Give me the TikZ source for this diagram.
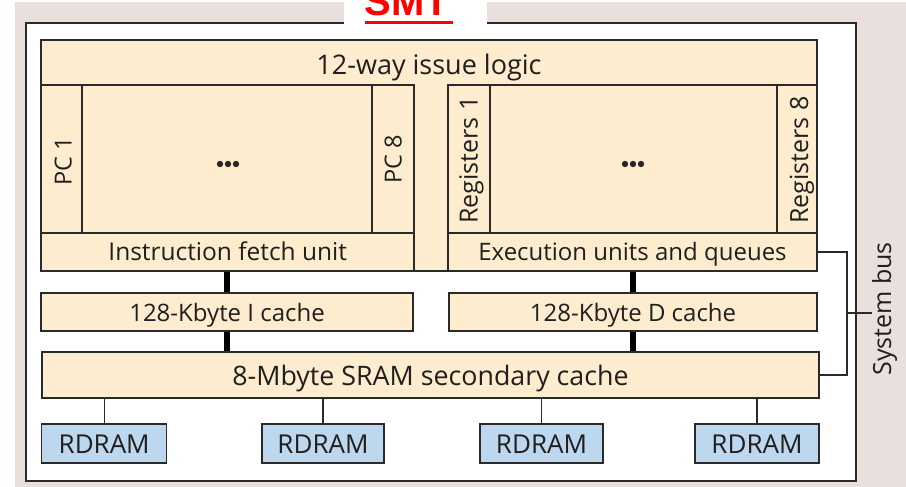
\documentclass[tikz,border=0pt]{standalone}
\usepackage{fontspec}
\setmainfont{Open Sans}
\setsansfont{Open Sans}
\newfontfamily\smtfont{Liberation Sans}
\definecolor{beige}{HTML}{FDECCE}
\definecolor{ramblue}{HTML}{BDD7EE}
\definecolor{pinkbg}{HTML}{E9DFDC}
\definecolor{ink}{HTML}{2A2A2A}
\definecolor{smtred}{HTML}{FF0000}
\newcommand{\FSz}[1]{\fontsize{#1}{#1}\selectfont}
\begin{document}
\begin{tikzpicture}[x=1pt,y=-1pt,
  blk/.style={draw=ink, line width=1.5pt, fill=beige, inner sep=0pt},
  ramblk/.style={draw=ink, line width=1.5pt, fill=ramblue, inner sep=0pt},
  txt/.style={inner sep=0pt, anchor=base, text=black!88},
  vtxt/.style={inner sep=0pt, anchor=base, rotate=90, text=black!88},
  fat/.style={draw=black, line width=5.5pt},
  link/.style={draw=ink, line width=1.4pt},
  dot/.style={fill=black!85}
]
\useasboundingbox (0,0) rectangle (906,487);
\clip (0,0) rectangle (906,487);
\fill[white] (0,0) rectangle (906,487);
\fill[pinkbg] (15,2) rectangle (906,487);

% frame
\node[draw=ink, line width=2pt, fill=white, minimum width=830pt, minimum height=458pt, inner sep=0pt] (frame) at (441,252) {};

% title patch
\fill[white] (344,0) rectangle (487,25);
\node[inner sep=0pt, anchor=base, text=smtred, font=\smtfont\bfseries\FSz{40}] (smt) at (407,16) {SMT};
\draw[smtred, line width=3pt] ([yshift=-6.5pt]smt.base west) -- ([yshift=-6.5pt,xshift=4pt]smt.base east);

% core block
\node[blk, minimum width=776pt, minimum height=231pt] (core) at (429,155.5) {};
\node[txt, font=\FSz{27}] (issue) at (429,74.3) {12-way issue logic};

% left: fetch block
\node[blk, minimum width=372.5pt, minimum height=186pt] (fetchblk) at (227.75,178) {};
\node[blk, minimum width=40.5pt, minimum height=148pt] (pc1) at (61.75,159) {};
\node[blk, minimum width=42pt, minimum height=148pt] (pc8) at (393,159) {};
\node[blk, minimum width=372.5pt, minimum height=38pt] (fetch) at (227.75,252) {};
\node[txt, font=\FSz{24.5}] (fetchtxt) at (fetch.center |- 0,260) {Instruction fetch unit};
\node[vtxt, font=\FSz{23.5}] (pc1txt) at (71.7,161) {PC 1};
\node[vtxt, font=\FSz{23.5}] (pc8txt) at (401.7,159) {PC 8};
\fill[dot] (220,164) circle (3.2) (228,164) circle (3.2) (236,164) circle (3.2);

% right: execution block
\node[blk, minimum width=369pt, minimum height=186pt] (execblk) at (632.5,178) {};
\node[blk, minimum width=42pt, minimum height=148pt] (reg1) at (469,159) {};
\node[blk, minimum width=40pt, minimum height=148pt] (reg8) at (797,159) {};
\node[blk, minimum width=369pt, minimum height=38pt] (exec) at (632.5,252) {};
\node[txt, font=\FSz{24}] (exectxt) at (exec.center |- 0,260) {Execution units and queues};
\node[vtxt, font=\FSz{25}] (reg1txt) at (477.7,160) {Registers 1};
\node[vtxt, font=\FSz{25}] (reg8txt) at (808,160) {Registers 8};
\fill[dot] (625,164) circle (3.2) (633,164) circle (3.2) (641,164) circle (3.2);

% caches
\node[blk, minimum width=372pt, minimum height=38pt] (icache) at (227,312) {};
\node[txt, font=\FSz{24}] (icachetxt) at (icache.center |- 0,321) {128-Kbyte I cache};
\node[blk, minimum width=368pt, minimum height=38pt] (dcache) at (633,312) {};
\node[txt, font=\FSz{24}] (dcachetxt) at (dcache.center |- 0,321) {128-Kbyte D cache};
\node[blk, minimum width=777pt, minimum height=46pt] (sram) at (430.5,375) {};
\node[txt, font=\FSz{26.8}] (sramtxt) at (sram.center |- 0,385) {8-Mbyte SRAM secondary cache};

% RDRAMs
\node[ramblk, minimum width=125pt, minimum height=39pt] (rd1) at (104.2,443.5) {};
\node[ramblk, minimum width=122pt, minimum height=39pt] (rd2) at (323,443.5) {};
\node[ramblk, minimum width=123pt, minimum height=39pt] (rd3) at (541.5,443.5) {};
\node[ramblk, minimum width=124pt, minimum height=39pt] (rd4) at (757,443.5) {};
\foreach \r in {rd1,rd2,rd3,rd4}{
  \node[txt, font=\FSz{26}] (\r txt) at (\r.center |- 0,453.3) {RDRAM};
  \draw[link] (\r.north) -- (\r.north |- sram.south);
}

% fat connectors
\draw[fat] (icache.north) -- (icache.north |- fetch.south);
\draw[fat] (icache.south) -- (icache.south |- sram.north);
\draw[fat] (dcache.north) -- (dcache.north |- exec.south);
\draw[fat] (dcache.south) -- (dcache.south |- sram.north);

% system bus
\coordinate (bus) at (847,313);
\coordinate (bustick) at (872,313);
\draw[link] (exec.east) -- (exec.east -| bus) -- (bus |- sram.east) -- (sram.east);
\draw[link] (bus) -- (bustick);
\node[vtxt, font=\FSz{25}] (bustxt) at (891,309) {System bus};
\end{tikzpicture}
\end{document}
